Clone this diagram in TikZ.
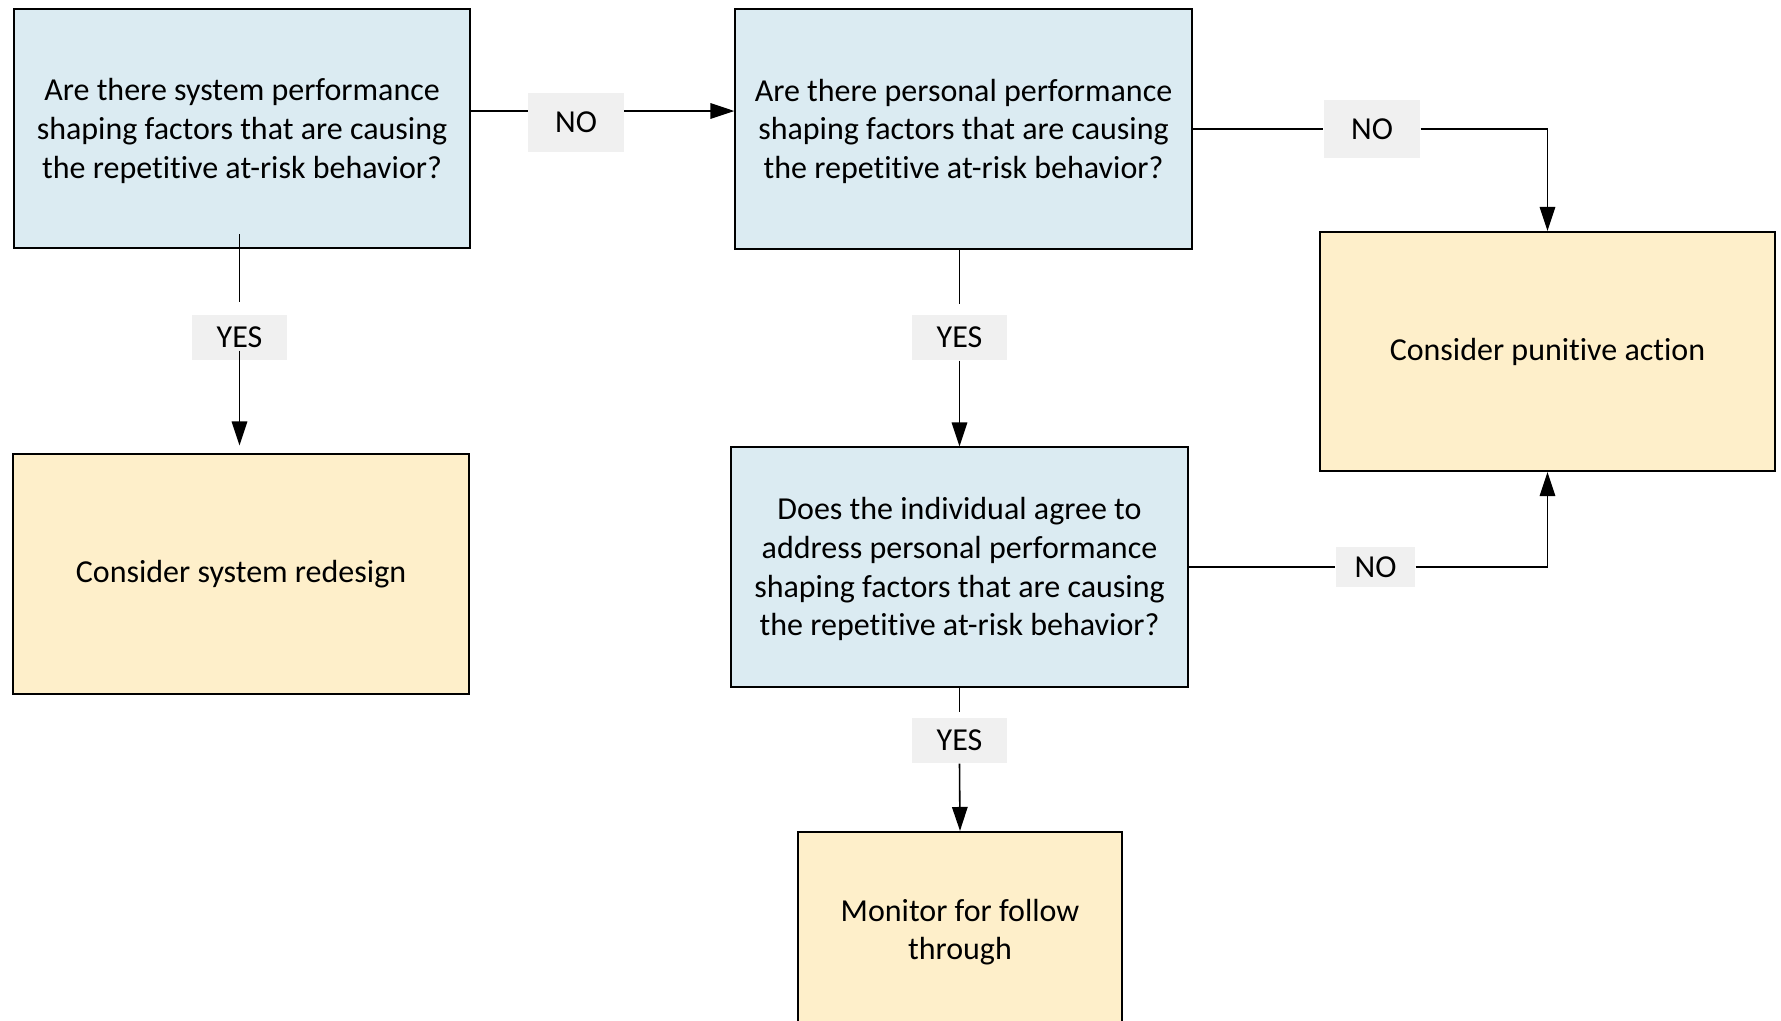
\documentclass[tikz,border=0pt]{standalone}
\usepackage{fontspec}
\setmainfont{Carlito}[Ligatures=NoCommon]
\usetikzlibrary{arrows.meta}
\definecolor{qblue}{HTML}{DBEBF2}
\definecolor{ayellow}{HTML}{FEEFCA}
\definecolor{lgray}{HTML}{F0F0F0}
\newcommand\nolig{\kern0pt }
\begin{document}
\begin{tikzpicture}[x=0.01cm,y=-0.01cm,
  every node/.style={font=\fontsize{9.1pt}{11pt}\selectfont, align=center},
  qbox/.style={draw=black, line width=0.6pt, fill=qblue, minimum width=4.56cm, minimum height=2.39cm},
  abox/.style={draw=black, line width=0.6pt, fill=ayellow, minimum height=2.39cm},
  lbl/.style={fill=lgray, minimum width=0.95cm, minimum height=0.45cm, inner sep=0pt},
  con/.style={line width=0.45pt},
  arr/.style={con, -{Triangle[length=6.8pt,width=4.4pt]}}]
\useasboundingbox (0,0) rectangle (1781,1021);
% boxes
\node[qbox] (A) at (242,128.5) {\strut Are there system performance\\shaping factors that are causing\\the repet\nolig it\nolig ive at-risk behavior?};
\node[qbox] (B) at (963.5,129) {\strut Are there personal performance\\shaping factors that are causing\\the repet\nolig it\nolig ive at-risk behavior?};
\node[abox, minimum width=4.56cm] (C) at (241,574) {Consider system redesign};
\node[qbox, minimum width=4.57cm] (D) at (959.5,567) {\strut Does the individual agree to\\address personal performance\\shaping factors that are causing\\the repet\nolig it\nolig ive at-risk behavior?};
\node[abox, minimum width=4.55cm] (E) at (1547.5,351.5) {Consider punit\nolig ive act\nolig ion};
\node[abox, minimum width=3.24cm, minimum height=2.0cm] (F) at (960,932) {Monitor for follow\\through};
% labels
\node[lbl, minimum height=0.59cm] (no1) at (576,122.5) {NO};
\node[lbl] (yes1) at (239.5,337.5) {YES};
\node[lbl] (yes2) at (959.5,337.5) {YES};
\node[lbl, minimum width=0.96cm, minimum height=0.58cm] (no2) at (1372,129) {NO};
\node[lbl, minimum width=0.79cm, minimum height=0.40cm] (no3) at (1375.5,567) {NO};
\node[lbl] (yes3) at (959.5,740.5) {YES};
% connectors
\coordinate (a1) at (470,111);
\draw[con] (a1) -- (a1 -| no1.west);
\draw[arr] (a1 -| no1.east) -- (a1 -| B.west);
\draw[con] ([yshift=0.15cm]A.south -| yes1) -- ([yshift=0.12cm]yes1.north);
\draw[arr] ([yshift=0.1cm]yes1.south) -- ([yshift=0.08cm]C.north -| yes1);
\draw[con] (B.south -| yes2) -- ([yshift=0.1cm]yes2.north);
\draw[arr] (yes2.south) -- (D.north -| yes2);
\draw[con] (B.east |- no2) -- (no2.west);
\draw[arr] (no2.east) -| (E.north);
\draw[con] (D.east |- no3) -- (no3.west);
\draw[arr] (no3.east) -| (E.south);
\draw[con] (D.south) -- ([yshift=0.05cm]yes3.north);
\draw[arr] (yes3.south) -- (F.north);
\end{tikzpicture}
\end{document}
